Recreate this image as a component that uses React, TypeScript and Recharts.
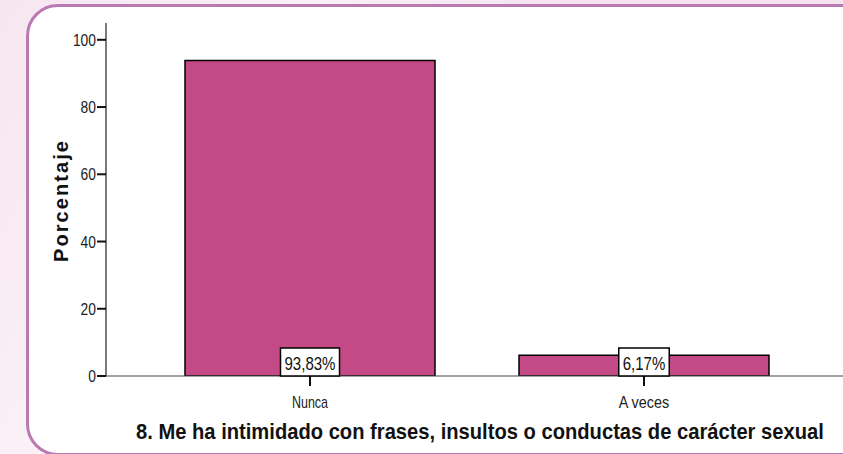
import { BarChart, Bar, XAxis, YAxis, LabelList } from 'recharts';

const categories = ['Nunca', 'A veces'];
const percentages = [93.83, 6.17];
const valueLabels = ['93,83%', '6,17%'];
const yTicks = [0, 20, 40, 60, 80, 100];

const chartData = categories.map((name, i) => ({
  name,
  value: percentages[i],
  label: valueLabels[i],
}));

// no narrow font installed, so squeeze Liberation Sans
const FONT = '"Liberation Sans", Arial, sans-serif';
const BAR_FILL = '#c44a87';
const TITLE = '8. Me ha intimidado con frases, insultos o conductas de carácter sexual';

function narrowWidth(text: string, perChar: number) {
  return text.length * perChar;
}

function YTick(props: any) {
  const { x, y, payload } = props;
  const s = String(payload.value);
  return (
    <text
      x={x + 1}
      y={y + 6}
      textAnchor="end"
      fontFamily={FONT}
      fontSize={16}
      fill="#222"
      textLength={narrowWidth(s, 7.7)}
      lengthAdjust="spacingAndGlyphs"
    >
      {s}
    </text>
  );
}

function XTick(props: any) {
  const { x, y, payload } = props;
  const s = String(payload.value);
  return (
    <text
      x={x}
      y={y + 20}
      textAnchor="middle"
      fontFamily={FONT}
      fontSize={17}
      fill="#222"
      textLength={narrowWidth(s, 7.2)}
      lengthAdjust="spacingAndGlyphs"
    >
      {s}
    </text>
  );
}

function ValueBox(props: any) {
  const { x, y, width, height, index } = props;
  const text = valueLabels[index];
  const tw = narrowWidth(text, 8.5);
  const boxW = tw + 8;
  const boxH = 28;
  const cx = x + width / 2;
  const bottom = y + height;
  return (
    <g>
      <rect x={cx - boxW / 2} y={bottom - boxH} width={boxW} height={boxH} fill="#fff" stroke="#000" strokeWidth={1.5} />
      <text
        x={cx}
        y={bottom - 6}
        textAnchor="middle"
        fontFamily={FONT}
        fontSize={19}
        fill="#111"
        textLength={tw}
        lengthAdjust="spacingAndGlyphs"
      >
        {text}
      </text>
    </g>
  );
}

export default function App() {
  return (
    <div
      style={{
        position: 'absolute',
        left: 0,
        top: 0,
        width: 843,
        height: 454,
        overflow: 'hidden',
        background: 'linear-gradient(120deg, #f6e6f0 0%, #fbf1f6 28%, #f5e3ee 52%, #f5e3ee 100%)',
      }}
    >
      <div
        style={{
          position: 'absolute',
          left: 26,
          top: 4,
          width: 860,
          height: 446,
          background: '#fff',
          border: '3px solid #b979b1',
          borderRadius: 32,
        }}
      />
      <div style={{ position: 'absolute', left: 0, top: 0 }}>
        <BarChart
          width={843}
          height={454}
          data={chartData}
          margin={{ top: 23, right: 0, bottom: 48, left: 46 }}
          barSize={250}
        >
          <YAxis
            width={60}
            domain={[0, 105]}
            ticks={yTicks}
            interval={0}
            allowDataOverflow
            tickSize={9}
            axisLine={{ stroke: '#222', strokeWidth: 1.2 }}
            tickLine={{ stroke: '#111', strokeWidth: 2 }}
            tick={<YTick />}
            label={{
              content: (p: any) => {
                const vb = p.viewBox;
                const cx = 68;
                const cy = vb.y + vb.height / 2 + 2;
                return (
                  <text
                    x={cx}
                    y={cy}
                    transform={`rotate(-90 ${cx} ${cy})`}
                    textAnchor="middle"
                    fontFamily={FONT}
                    fontWeight="bold"
                    fontSize={20}
                    fill="#111"
                    textLength={121}
                    lengthAdjust="spacing"
                  >
                    Porcentaje
                  </text>
                );
              },
            }}
          />
          <XAxis
            dataKey="name"
            height={30}
            padding={{ left: 37, right: 32 }}
            tickSize={10}
            axisLine={{ stroke: '#444', strokeWidth: 1 }}
            tickLine={{ stroke: '#111', strokeWidth: 2 }}
            tick={<XTick />}
            label={{
              content: () => (
                <g transform="translate(136 439) scale(0.896 1)">
                  <text x={0} y={0} textAnchor="start" fontFamily={FONT} fontWeight="bold" fontSize={22.5} fill="#111">
                    {TITLE}
                  </text>
                </g>
              ),
            }}
          />
          <Bar dataKey="value" fill={BAR_FILL} stroke="#000" strokeWidth={1.5} isAnimationActive={false}>
            <LabelList dataKey="label" content={<ValueBox />} />
          </Bar>
        </BarChart>
      </div>
    </div>
  );
}
